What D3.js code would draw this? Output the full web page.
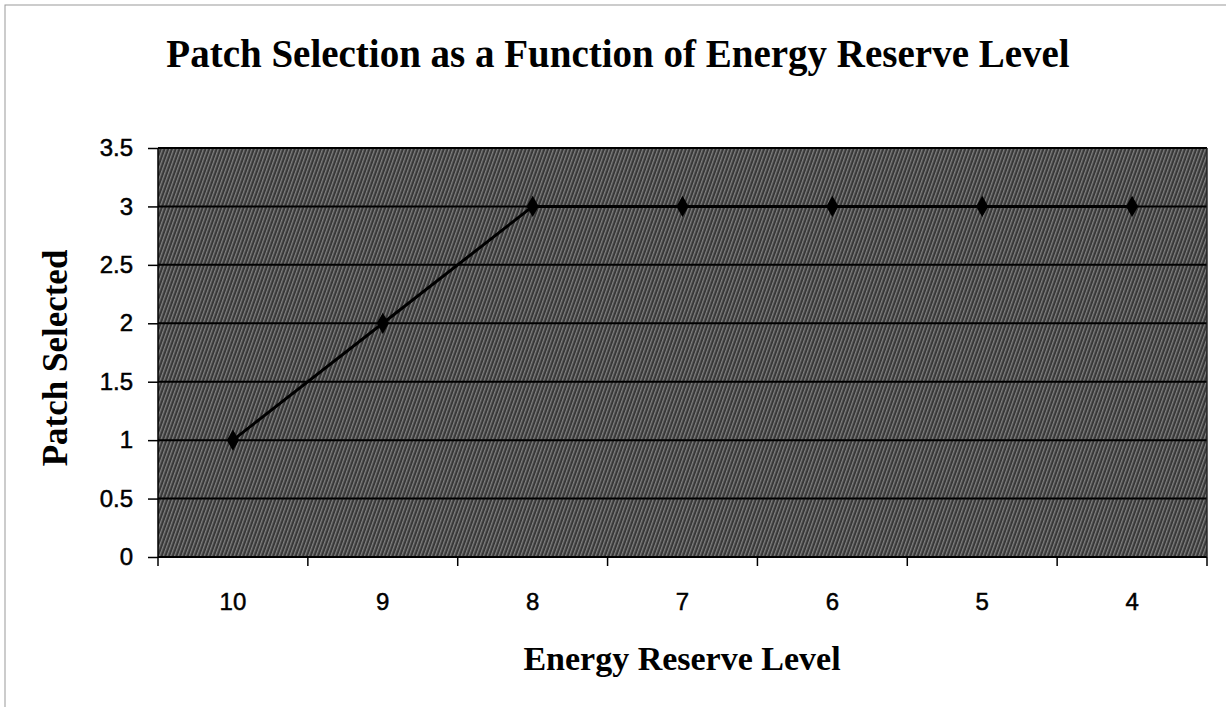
<!DOCTYPE html>
<head>
  <meta charset="utf-8">
  <script src="https://cdn.jsdelivr.net/npm/d3@7"></script>
  <style>
    body { margin: 0; background: white; }
    .tick line { stroke: black; stroke-width: 1.5; }
    .domain { display: none; }
    .lbl { font-family: "Liberation Serif", "Times New Roman", serif; font-weight: bold; fill: black; }
  </style>
</head>
<body>
<script>
const W = 1226;
const H = 707;
const M = { left: 158, top: 148, right: 1207, bottom: 557 };

// data
const levels = ["10", "9", "8", "7", "6", "5", "4"];
const patch = [1, 2, 3, 3, 3, 3, 3];
const yTicks = [0, 0.5, 1, 1.5, 2, 2.5, 3, 3.5];

const svg = d3.select("body").append("svg")
  .attr("width", W)
  .attr("height", H);

// outer chart frame
svg.append("rect")
  .attr("x", 5).attr("y", 5)
  .attr("width", W + 10).attr("height", H + 10)
  .attr("fill", "white")
  .attr("stroke", "#999")
  .attr("stroke-width", 1);

// hatch texture for plot area
const defs = svg.append("defs");
const pat = defs.append("pattern")
  .attr("id", "hatch")
  .attr("patternUnits", "userSpaceOnUse")
  .attr("width", 3.5).attr("height", 6)
  .attr("patternTransform", "rotate(20)");
pat.append("rect").attr("width", 3.5).attr("height", 6).attr("fill", "#383838");
pat.append("rect").attr("width", 1.3).attr("height", 6).attr("fill", "#808080");

const x = d3.scaleBand()
  .domain(levels)
  .range([M.left, M.right]);

const y = d3.scaleLinear()
  .domain([0, 3.5])
  .range([M.bottom, M.top]);

svg.append("rect")
  .attr("x", M.left).attr("y", M.top)
  .attr("width", M.right - M.left)
  .attr("height", M.bottom - M.top)
  .attr("fill", "url(#hatch)");

// gridlines
svg.selectAll("line.grid").data(yTicks)
  .enter().append("line")
  .attr("class", "grid")
  .attr("x1", M.left).attr("x2", M.right)
  .attr("y1", d => y(d)).attr("y2", d => y(d))
  .attr("stroke", "black")
  .attr("stroke-width", 2);

// plot edges
svg.append("line")
  .attr("x1", M.left).attr("x2", M.left)
  .attr("y1", M.top).attr("y2", M.bottom)
  .attr("stroke", "black").attr("stroke-width", 1.5);
svg.append("line")
  .attr("x1", M.right).attr("x2", M.right)
  .attr("y1", M.top).attr("y2", M.bottom)
  .attr("stroke", "#222").attr("stroke-width", 1.5);

// y axis
const yg = svg.append("g")
  .attr("transform", "translate(" + M.left + ",0)")
  .call(d3.axisLeft(y).tickValues(yTicks).tickSize(10).tickPadding(15).tickFormat(d3.format("")));
yg.selectAll(".tick text")
  .style("font-family", "'Liberation Sans', Arial, sans-serif")
  .style("font-size", "24px")
  .attr("fill", "black")
  .attr("stroke", "black")
  .attr("stroke-width", 0.5);

// x axis (ticks on category boundaries)
const xg = svg.append("g")
  .attr("transform", "translate(0," + M.bottom + ")")
  .call(d3.axisBottom(x).tickSize(0).tickPadding(36));
xg.selectAll(".tick text")
  .style("font-family", "'Liberation Sans', Arial, sans-serif")
  .style("font-size", "24px")
  .attr("fill", "black")
  .attr("stroke", "black")
  .attr("stroke-width", 0.5);
const bounds = levels.map(d => x(d)).concat([M.right]);
xg.selectAll("line.bt").data(bounds)
  .enter().append("line")
  .attr("class", "bt")
  .attr("x1", d => d).attr("x2", d => d)
  .attr("y1", 0).attr("y2", 9)
  .attr("stroke", "black").attr("stroke-width", 1.5);

// series line
const line = d3.line()
  .x((d, i) => x(levels[i]) + x.bandwidth() / 2)
  .y(d => y(d));

svg.append("path")
  .datum(patch)
  .attr("d", line)
  .attr("fill", "none")
  .attr("stroke", "black")
  .attr("stroke-width", 3);

svg.selectAll("path.mark").data(patch)
  .enter().append("path")
  .attr("class", "mark")
  .attr("d", d3.symbol().type(d3.symbolDiamond).size(130))
  .attr("transform", (d, i) => "translate(" + (x(levels[i]) + x.bandwidth() / 2) + "," + y(d) + ")")
  .attr("fill", "black");

// titles
svg.append("text")
  .attr("class", "lbl")
  .attr("x", 618).attr("y", 67)
  .attr("text-anchor", "middle")
  .style("font-size", "39px")
  .text("Patch Selection as a Function of Energy Reserve Level");

svg.append("text")
  .attr("class", "lbl")
  .attr("transform", "translate(67,358) rotate(-90)")
  .attr("text-anchor", "middle")
  .style("font-size", "35px")
  .text("Patch Selected");

svg.append("text")
  .attr("class", "lbl")
  .attr("x", 682).attr("y", 670)
  .attr("text-anchor", "middle")
  .style("font-size", "34px")
  .text("Energy Reserve Level");
</script>
</body>
